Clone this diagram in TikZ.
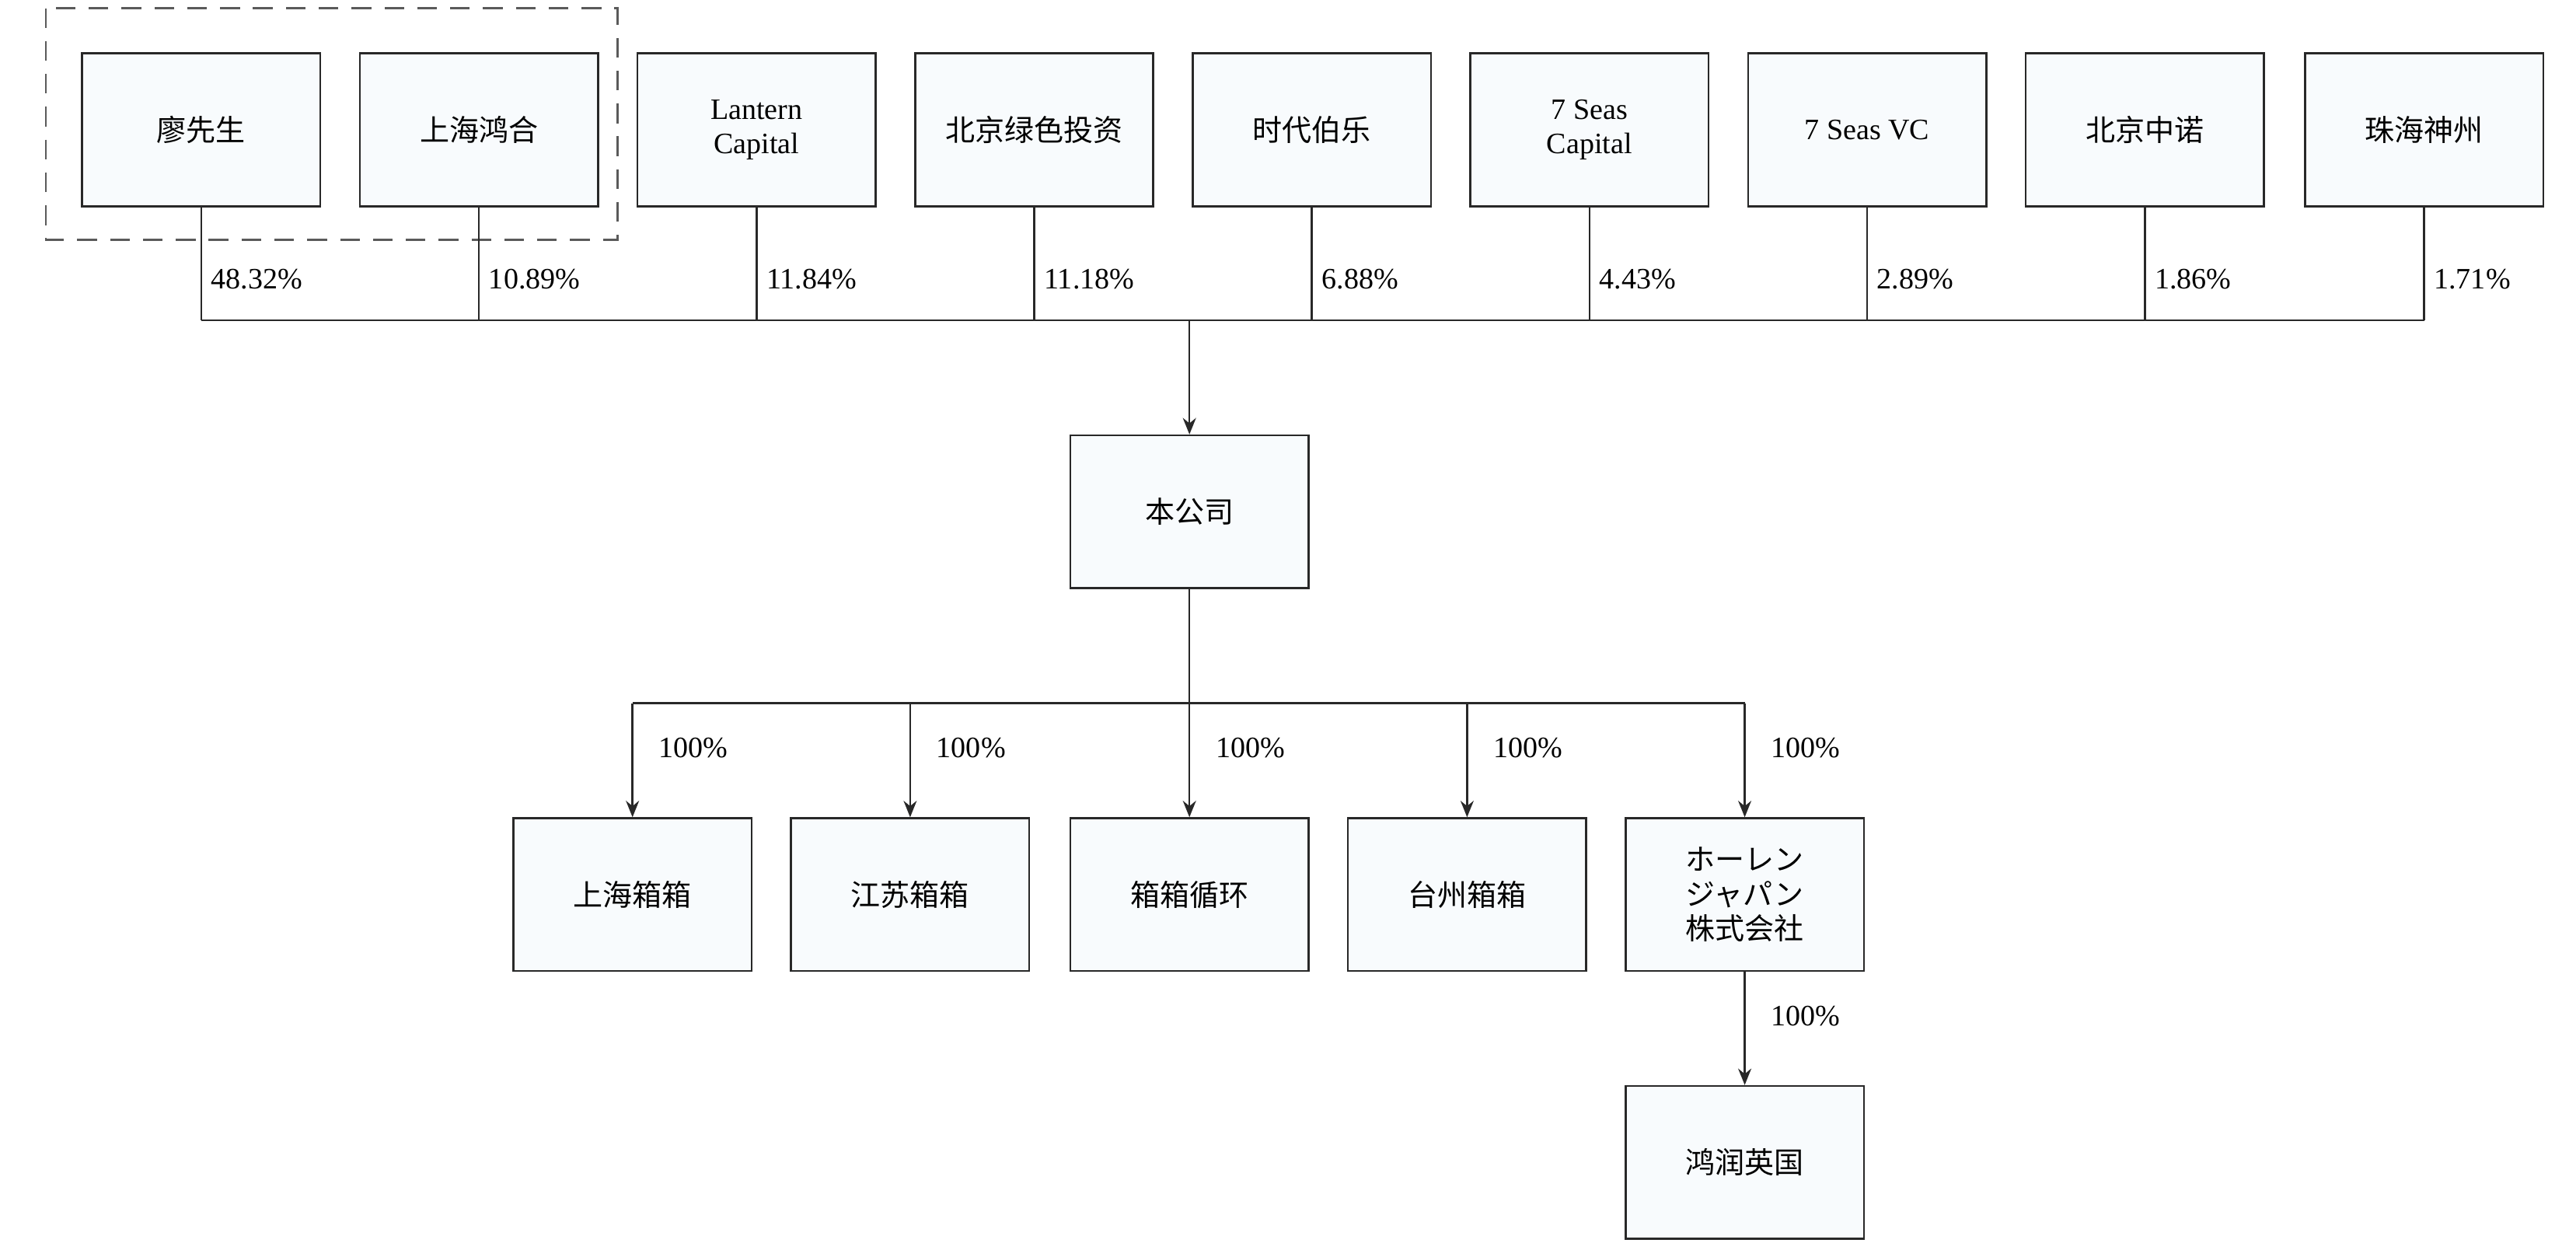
\documentclass[tikz,border=0pt]{standalone}
\usepackage{fontspec}
\setmainfont{Liberation Serif}
\newfontfamily\cjk{Noto Sans CJK SC}
\usetikzlibrary{arrows.meta}
\tikzset{every picture/.style={line width=0.6pt}}
\tikzset{
  entbox/.style={draw={rgb,255:red,40;green,40;blue,40},fill={rgb,255:red,248;green,251;blue,253},minimum width=72.5pt,minimum height=46.5pt,inner sep=1pt,align=center,font=\fontsize{9}{10.5}\selectfont\cjk},
  pctlabel/.style={anchor=west,inner sep=0.75pt,font=\fontsize{9}{10}\selectfont},
  link/.style={draw={rgb,255:red,40;green,40;blue,40}},
  linkarrow/.style={link,-{Stealth[length=5pt,width=4pt]}}
}
\begin{document}
\begin{tikzpicture}[x=0.5pt,y=0.5pt,yscale=-1]
\useasboundingbox (0,0) rectangle (1568,765);

%Dashed group
\draw [dashed,dash pattern=on 6pt off 4pt,draw={rgb,255:red,90;green,90;blue,90}] (28,5) rectangle (376,146);

%Shareholders
\node [entbox] (liao) at (122.5,79) {廖先生};
\node [entbox] (honghe) at (291.5,79) {上海鸿合};
\node [entbox,font=\fontsize{9}{10.5}\selectfont] (lantern) at (460.5,79) {Lantern\\Capital};
\node [entbox] (lvse) at (629.5,79) {北京绿色投资};
\node [entbox] (bole) at (798.5,79) {时代伯乐};
\node [entbox,font=\fontsize{9}{10.5}\selectfont] (sevcap) at (967.5,79) {7 Seas\\Capital};
\node [entbox,font=\fontsize{9}{10.5}\selectfont] (sevvc) at (1136.5,79) {7 Seas VC};
\node [entbox] (zhongnuo) at (1305.5,79) {北京中诺};
\node [entbox] (shenzhou) at (1475.5,79) {珠海神州};

%Company
\node [entbox] (company) at (724,311.5) {本公司};

%Subsidiaries
\node [entbox] (shxx) at (385,544.5) {上海箱箱};
\node [entbox] (jsxx) at (554,544.5) {江苏箱箱};
\node [entbox] (xxxh) at (724,544.5) {箱箱循环};
\node [entbox] (tzxx) at (893,544.5) {台州箱箱};
\node [entbox] (japan) at (1062,544.5) {ホーレン\\ジャパン\\株式会社};
\node [entbox] (uk) at (1062,707.5) {鸿润英国};

%Bus coordinates
\coordinate (topbus) at (724,195);
\coordinate (subbus) at (724,428);

%Shareholder lines
\foreach \n/\p in {liao/48.32,honghe/10.89,lantern/11.84,lvse/11.18,bole/6.88,sevcap/4.43,sevvc/2.89,zhongnuo/1.86,shenzhou/1.71}{
  \draw [link] (\n.south) -- (\n.south |- topbus);
  \node [pctlabel] (pct\n) at ([xshift=2pt,yshift=22pt]\n.south) {\p\%};
}
\draw [link] (liao.south |- topbus) -- (shenzhou.south |- topbus);
\draw [linkarrow] (topbus) -- (company.north);

%Subsidiary lines
\draw [link] (company.south) -- (subbus);
\draw [link] (shxx.north |- subbus) -- (japan.north |- subbus);
\foreach \n in {shxx,jsxx,xxxh,tzxx,japan}{
  \draw [linkarrow] (\n.north |- subbus) -- (\n.north);
  \node [pctlabel] (pct\n) at ([xshift=7pt,yshift=13.5pt]\n.north |- subbus) {100\%};
}
\draw [linkarrow] (japan.south) -- (uk.north);
\node [pctlabel] (pctuk) at ([xshift=7pt,yshift=13.5pt]japan.south) {100\%};

\end{tikzpicture}
\end{document}
